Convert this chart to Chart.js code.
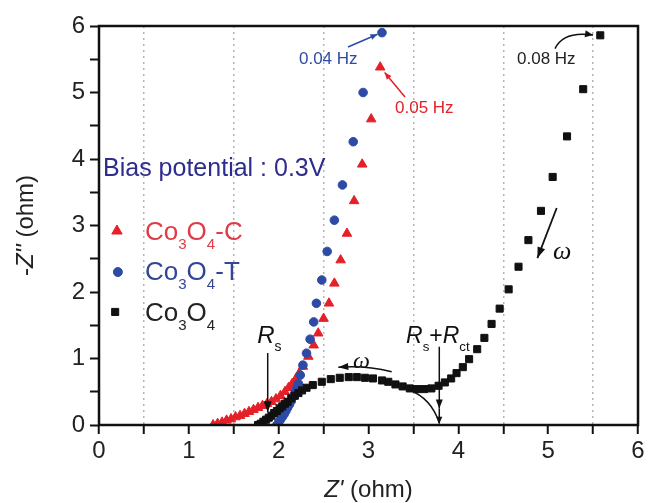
<!DOCTYPE html>
<html>
<head>
<meta charset="utf-8">
<script src="https://cdn.jsdelivr.net/npm/chart.js@4.4.1/dist/chart.umd.min.js"></script>
<style>
  html, body { margin: 0; padding: 0; background: #fff; }
  #wrap { width: 649px; height: 503px; }
</style>
</head>
<body>
<div id="wrap"><canvas id="eis" width="649" height="503"></canvas></div>
<script>
// Nyquist data, Z' (ohm) and -Z'' (ohm)
const co3o4Re = [1.77,1.80,1.83,1.86,1.89,1.92,1.95,1.98,2.01,2.04,2.07,2.10,2.14,2.18,2.22,2.26,2.31,2.38,2.48,2.58,2.68,2.78,2.87,2.96,3.05,3.15,3.22,3.30,3.38,3.46,3.54,3.62,3.70,3.78,3.85,3.92,3.98,4.05,4.12,4.21,4.29,4.37,4.46,4.56,4.67,4.78,4.92,5.05,5.21,5.39,5.58];
const co3o4Im = [0.00,0.02,0.05,0.08,0.11,0.14,0.18,0.21,0.25,0.28,0.32,0.35,0.40,0.44,0.48,0.52,0.56,0.60,0.65,0.69,0.71,0.72,0.72,0.71,0.70,0.67,0.65,0.61,0.58,0.55,0.54,0.54,0.55,0.59,0.64,0.70,0.78,0.87,0.99,1.14,1.31,1.52,1.75,2.04,2.38,2.78,3.22,3.73,4.34,5.05,5.86];

const co3o4tRe = [1.98,2.00,2.02,2.04,2.06,2.08,2.10,2.12,2.14,2.16,2.18,2.20,2.22,2.24,2.27,2.31,2.35,2.39,2.42,2.48,2.54,2.62,2.71,2.83,2.94,3.15];
const co3o4tIm = [0.00,0.04,0.08,0.12,0.16,0.21,0.26,0.31,0.36,0.42,0.48,0.55,0.62,0.75,0.90,1.08,1.29,1.55,1.83,2.18,2.61,3.08,3.61,4.26,5.00,5.90];

const co3o4cRe = [1.27,1.32,1.37,1.42,1.47,1.52,1.57,1.62,1.67,1.72,1.77,1.82,1.87,1.92,1.97,2.02,2.07,2.11,2.15,2.19,2.23,2.27,2.33,2.39,2.44,2.50,2.56,2.62,2.69,2.76,2.84,2.93,3.03,3.13];
const co3o4cIm = [0.00,0.02,0.04,0.07,0.09,0.12,0.14,0.17,0.20,0.23,0.26,0.29,0.32,0.35,0.39,0.44,0.50,0.56,0.62,0.69,0.78,0.88,1.03,1.20,1.38,1.60,1.83,2.13,2.48,2.88,3.37,3.92,4.60,5.38];

const xTicks = [0, 1, 2, 3, 4, 5, 6];
const yTicks = [0, 1, 2, 3, 4, 5, 6];

const FONT = '"Liberation Sans", Arial, sans-serif';
const SERIF = '"Liberation Serif", "Times New Roman", serif';
const RED = 'rgb(228,32,40)';
const BLUE = 'rgb(45,75,165)';
const BLACK = '#111';

const toPoints = (xs, ys) => xs.map((v, i) => ({ x: v, y: ys[i] }));

// text made of pieces: [text, mode] with mode '' normal, 'i' italic, 's' subscript
function richWidth(ctx, parts, size, family) {
    let w = 0;
    parts.forEach(([t, m]) => {
        const sz = m === 's' ? size * 0.58 : size;
        ctx.font = (m === 'i' ? 'italic ' : '') + sz + 'px ' + (family || FONT);
        w += ctx.measureText(t).width;
    });
    return w;
}
function drawRich(ctx, x, y, parts, size, color, family) {
    ctx.fillStyle = color;
    ctx.textAlign = 'left';
    ctx.textBaseline = 'alphabetic';
    let cx = x;
    parts.forEach(([t, m]) => {
        const sz = m === 's' ? size * 0.58 : size;
        ctx.font = (m === 'i' ? 'italic ' : '') + sz + 'px ' + (family || FONT);
        ctx.fillText(t, cx, y + (m === 's' ? size * 0.34 : 0));
        cx += ctx.measureText(t).width;
    });
}

function arrowHead(ctx, x1, y1, x2, y2, len, wid) {
    const a = Math.atan2(y2 - y1, x2 - x1);
    const c = Math.cos(a), s = Math.sin(a);
    ctx.beginPath();
    ctx.moveTo(x2, y2);
    ctx.lineTo(x2 - len * c + wid * s, y2 - len * s - wid * c);
    ctx.lineTo(x2 - len * c - wid * s, y2 - len * s + wid * c);
    ctx.closePath();
    ctx.fill();
}
function arrow(ctx, p1, p2, ctrl, color, lw, len, wid) {
    ctx.strokeStyle = color;
    ctx.fillStyle = color;
    ctx.lineWidth = lw;
    ctx.beginPath();
    ctx.moveTo(p1[0], p1[1]);
    if (ctrl) ctx.quadraticCurveTo(ctrl[0], ctrl[1], p2[0], p2[1]);
    else ctx.lineTo(p2[0], p2[1]);
    ctx.stroke();
    const from = ctrl || p1;
    arrowHead(ctx, from[0], from[1], p2[0], p2[1], len, wid);
}

const annotate = {
    id: 'annotate',
    afterDraw(chart) {
        const { ctx, chartArea: a, scales: { x, y } } = chart;
        const P = (vx, vy) => [x.getPixelForValue(vx), y.getPixelForValue(vy)];
        ctx.save();

        // frame
        ctx.strokeStyle = BLACK;
        ctx.lineWidth = 2.5;
        ctx.strokeRect(a.left, a.top, a.right - a.left, a.bottom - a.top);

        // axis titles
        const xt = [["Z'", 'i'], [' (ohm)', '']];
        const xw = richWidth(ctx, xt, 24);
        drawRich(ctx, (a.left + a.right) / 2 - xw / 2, 497, xt, 24, '#222');
        const yt = [['-', ''], ["Z''", 'i'], [' (ohm)', '']];
        const yw = richWidth(ctx, yt, 24);
        ctx.save();
        ctx.translate(33, (a.top + a.bottom) / 2);
        ctx.rotate(-Math.PI / 2);
        drawRich(ctx, -yw / 2, 0, yt, 24, '#222');
        ctx.restore();

        // bias potential note
        let p = P(0.045, 3.744);
        drawRich(ctx, p[0], p[1], [['Bias potential : 0.3V', '']], 25, 'rgb(45,45,140)');

        // legend
        const rows = [
            { style: 'triangle', r: 6, color: RED, text: 'rgb(222,60,70)', m: [0.20, 2.917], b: 2.78, tail: '-C' },
            { style: 'circle', r: 4.5, color: BLUE, text: 'rgb(50,70,150)', m: [0.21, 2.30], b: 2.18, tail: '-T' },
            { style: 'rect', r: 5, color: BLACK, text: '#222', m: [0.18, 1.70], b: 1.564, tail: '' }
        ];
        rows.forEach(row => {
            const mp = P(row.m[0], row.m[1]);
            ctx.fillStyle = row.color;
            ctx.strokeStyle = row.color;
            ctx.lineWidth = 1;
            Chart.helpers.drawPoint(ctx, { pointStyle: row.style, radius: row.r, borderWidth: 1, rotation: 0 }, mp[0], mp[1]);
            const tp = P(0.512, row.b);
            const parts = [['Co', ''], ['3', 's'], ['O', ''], ['4', 's']];
            if (row.tail) parts.push([row.tail, '']);
            drawRich(ctx, tp[0], tp[1], parts, 26, row.text);
        });

        // frequency labels
        p = P(2.226, 5.43);
        drawRich(ctx, p[0], p[1], [['0.04 Hz', '']], 17, BLUE);
        arrow(ctx, P(2.772, 5.684), P(3.10, 5.875), null, BLUE, 1.5, 7, 3);
        p = P(3.295, 4.69);
        drawRich(ctx, p[0], p[1], [['0.05 Hz', '']], 17, RED);
        arrow(ctx, P(3.406, 4.932), P(3.18, 5.30), null, RED, 1.5, 7, 3);
        p = P(4.653, 5.43);
        drawRich(ctx, p[0], p[1], [['0.08 Hz', '']], 17, '#222');
        arrow(ctx, P(5.076, 5.66), P(5.50, 5.865), P(5.17, 5.93), BLACK, 1.5, 8, 3.5);

        // omega arrows
        arrow(ctx, P(5.095, 3.263), P(4.88, 2.51), null, BLACK, 1.8, 11, 4);
        p = P(5.054, 2.50);
        drawRich(ctx, p[0], p[1], [['\u03c9', 'i']], 26, BLACK, SERIF);
        arrow(ctx, P(3.258, 0.80), P(2.664, 0.867), P(2.96, 0.90), BLACK, 1.5, 10, 3.5);
        p = P(2.828, 0.857);
        drawRich(ctx, p[0], p[1], [['\u03c9', 'i']], 24, BLACK, SERIF);

        // Rs
        p = P(1.762, 1.228);
        drawRich(ctx, p[0], p[1], [['R', 'i'], ['s', 's']], 24, BLACK);
        arrow(ctx, P(1.878, 1.083), P(1.878, 0.19), null, BLACK, 1.5, 11, 4);

        // Rs + Rct
        p = P(3.418, 1.228);
        drawRich(ctx, p[0], p[1], [['R', 'i'], ['s', 's'], ['+', ''], ['R', 'i'], ['ct', 's']], 23, BLACK);
        arrow(ctx, P(3.788, 1.177), P(3.788, 0.25), null, BLACK, 1.5, 9, 3.5);
        arrow(ctx, P(3.788, 0.25), P(3.788, 0.02), null, BLACK, 1.5, 7, 3);
        ctx.strokeStyle = BLACK;
        ctx.lineWidth = 1.5;
        ctx.beginPath();
        const c0 = P(3.45, 0.53), c1 = P(3.70, 0.40), c2 = P(3.788, 0.03);
        ctx.moveTo(c0[0], c0[1]);
        ctx.quadraticCurveTo(c1[0], c1[1], c2[0], c2[1]);
        ctx.stroke();

        ctx.restore();
    }
};

new Chart(document.getElementById('eis'), {
    type: 'scatter',
    data: {
        datasets: [
            {
                label: 'Co3O4',
                data: toPoints(co3o4Re, co3o4Im),
                pointStyle: 'rect',
                pointRadius: 5,
                backgroundColor: BLACK,
                borderColor: BLACK,
                borderWidth: 1
            },
            {
                label: 'Co3O4-T',
                data: toPoints(co3o4tRe, co3o4tIm),
                pointStyle: 'circle',
                pointRadius: 4.3,
                backgroundColor: BLUE,
                borderColor: BLUE,
                borderWidth: 1
            },
            {
                label: 'Co3O4-C',
                data: toPoints(co3o4cRe, co3o4cIm),
                pointStyle: 'triangle',
                pointRadius: 5.5,
                backgroundColor: RED,
                borderColor: RED,
                borderWidth: 1
            }
        ]
    },
    options: {
        responsive: false,
        animation: false,
        layout: { padding: { top: 26, right: 11, left: 0, bottom: 0 } },
        plugins: {
            legend: { display: false },
            tooltip: { enabled: false }
        },
        scales: {
            x: {
                type: 'linear',
                min: xTicks[0],
                max: xTicks[xTicks.length - 1],
                afterFit: s => { s.height = 78; },
                ticks: {
                    stepSize: 0.5,
                    autoSkip: false,
                    maxRotation: 0,
                    padding: 3,
                    color: '#222',
                    font: { family: FONT, size: 24 },
                    callback: v => (xTicks.includes(v) ? v : '')
                },
                grid: {
                    color: c => (c.tick && c.tick.value % 1 !== 0 ? '#b4b4b4' : 'rgba(0,0,0,0)'),
                    lineWidth: 1.5,
                    tickColor: BLACK,
                    tickWidth: 2,
                    tickLength: 9,
                    tickBorderDash: []
                },
                border: { display: false, dash: [2, 4] }
            },
            y: {
                type: 'linear',
                min: yTicks[0],
                max: yTicks[yTicks.length - 1],
                afterFit: s => { s.width = 99; },
                ticks: {
                    stepSize: 0.5,
                    autoSkip: false,
                    padding: 5,
                    color: '#222',
                    font: { family: FONT, size: 24 },
                    callback: v => (yTicks.includes(v) ? v : '')
                },
                grid: {
                    drawOnChartArea: false,
                    tickColor: BLACK,
                    tickWidth: 2,
                    tickLength: 9
                },
                border: { display: false }
            }
        }
    },
    plugins: [annotate]
});
</script>
</body>
</html>
